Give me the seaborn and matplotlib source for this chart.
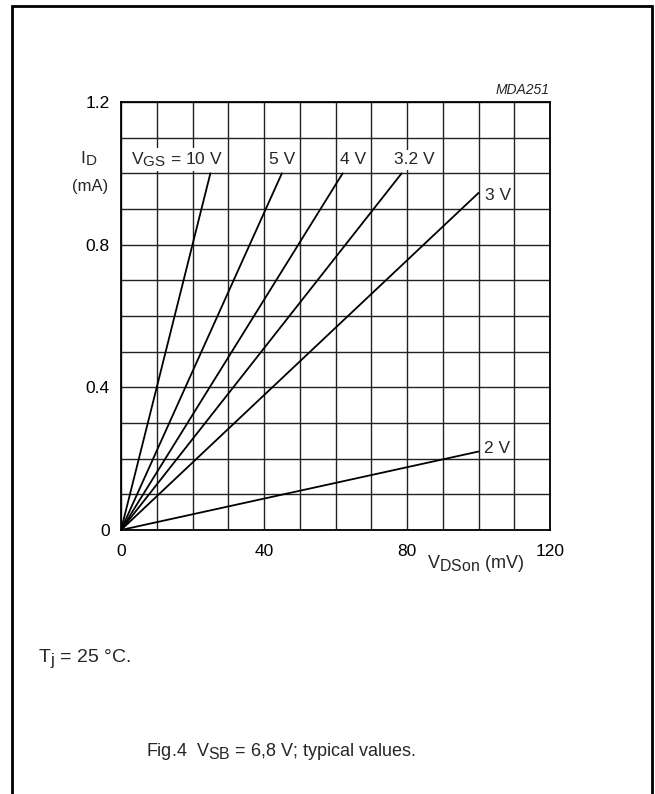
import matplotlib
matplotlib.use("Agg")
import matplotlib.pyplot as plt
import matplotlib._mathtext as mathtext_core
import seaborn as sns
import pandas as pd
from matplotlib.patches import Rectangle
from matplotlib.ticker import MultipleLocator

# I_D (mA) versus V_DSon (mV), one curve per V_GS
vgs = ["10 V", "5 V", "4 V", "3.2 V", "3 V", "2 V"]
vds_10v = [0, 25]
id_10v = [0, 1.0]
vds_5v = [0, 45]
id_5v = [0, 1.0]
vds_4v = [0, 62]
id_4v = [0, 1.0]
vds_3v2 = [0, 78.5]
id_3v2 = [0, 1.0]
vds_3v = [0, 100]
id_3v = [0, 0.945]
vds_2v = [0, 100]
id_2v = [0, 0.22]

curve_labels = ["$\\mathregular{V_{GS}}$ = 10 V", "5 V", "4 V", "3.2 V", "3 V", "2 V"]
x_ticks = [0, 40, 80, 120]
y_ticks = [0, 0.4, 0.8, 1.2]
y_tick_labels = ["0", "0.4", "0.8", "1.2"]

frames = []
for name, xs, ys in zip(vgs,
                        [vds_10v, vds_5v, vds_4v, vds_3v2, vds_3v, vds_2v],
                        [id_10v, id_5v, id_4v, id_3v2, id_3v, id_2v]):
    frames.append(pd.DataFrame({"vds": xs, "id": ys, "vgs": name}))
df = pd.concat(frames, ignore_index=True)

sns.set_style("white")
plt.rcParams["font.family"] = ["Liberation Sans", "DejaVu Sans"]
plt.rcParams["mathtext.fontset"] = "custom"
plt.rcParams["mathtext.rm"] = "Liberation Sans"
plt.rcParams["mathtext.it"] = "Liberation Sans:italic"
# subscripts in the datasheet are almost full size
mathtext_core.SHRINK_FACTOR = 0.88

W, H = 655, 794
fig = plt.figure(figsize=(W / 100, H / 100), dpi=100)
ax = fig.add_axes([121 / W, 1 - 530 / H, 429 / W, 428 / H])

sns.lineplot(data=df, x="vds", y="id", hue="vgs", palette={v: "black" for v in vgs},
             estimator=None, sort=False, legend=False, linewidth=1.3, ax=ax)

ax.set_xlim(0, 120)
ax.set_ylim(0, 1.2)
ax.set_xticks(x_ticks)
ax.set_xticklabels([str(t) for t in x_ticks])
ax.set_yticks(y_ticks)
ax.set_yticklabels(y_tick_labels)
ax.xaxis.set_minor_locator(MultipleLocator(10))
ax.yaxis.set_minor_locator(MultipleLocator(0.1))
ax.grid(which="both", color="#222222", linewidth=1.0)
ax.set_axisbelow(True)
ax.tick_params(which="both", length=0, labelsize=12.5, colors="black")
ax.tick_params(axis="x", pad=10)
ax.tick_params(axis="y", pad=8)
ax.set_xlabel("")
ax.set_ylabel("")
for s in ax.spines.values():
    s.set_color("black")
    s.set_linewidth(1.3)

# curve labels (data coords of baseline-left corner)
label_pos = [(2.8, 1.025), (41.4, 1.025), (61.3, 1.025), (76.5, 1.025), (101.8, 0.925), (101.6, 0.215)]
for txt, (lx, ly) in zip(curve_labels, label_pos):
    ax.text(lx, ly, txt, fontsize=12.5, ha="left", va="baseline", zorder=5,
            bbox=dict(facecolor="white", edgecolor="none", pad=1.5))

def fx(px):
    return px / W

def fy(py):
    return 1 - py / H

fig.text(fx(80), fy(163), "$\\mathregular{I_D}$", fontsize=12.5, ha="left", va="baseline")
fig.text(fx(90), fy(187), "(mA)", fontsize=12, ha="center", va="center")
fig.text(fx(427), fy(568), "$\\mathregular{V_{DSon}}$ (mV)", fontsize=13, ha="left", va="baseline")
fig.text(fx(550), fy(90), "MDA251", fontsize=10, style="italic", ha="right", va="center")

fig.text(fx(38), fy(662), "$\\mathregular{T_j}$ = 25 \u00b0C.", fontsize=14, ha="left", va="baseline")
fig.text(fx(281), fy(756), "Fig.4  $\\mathregular{V_{SB}}$ = 6,8 V; typical values.", fontsize=13,
         ha="center", va="baseline")

fig.patches.append(Rectangle((fx(12), -0.02), fx(652) - fx(12), fy(6) + 0.02, fill=False,
                             edgecolor="black", linewidth=2, transform=fig.transFigure))

fig.savefig("out.png", dpi=100, facecolor="white")
